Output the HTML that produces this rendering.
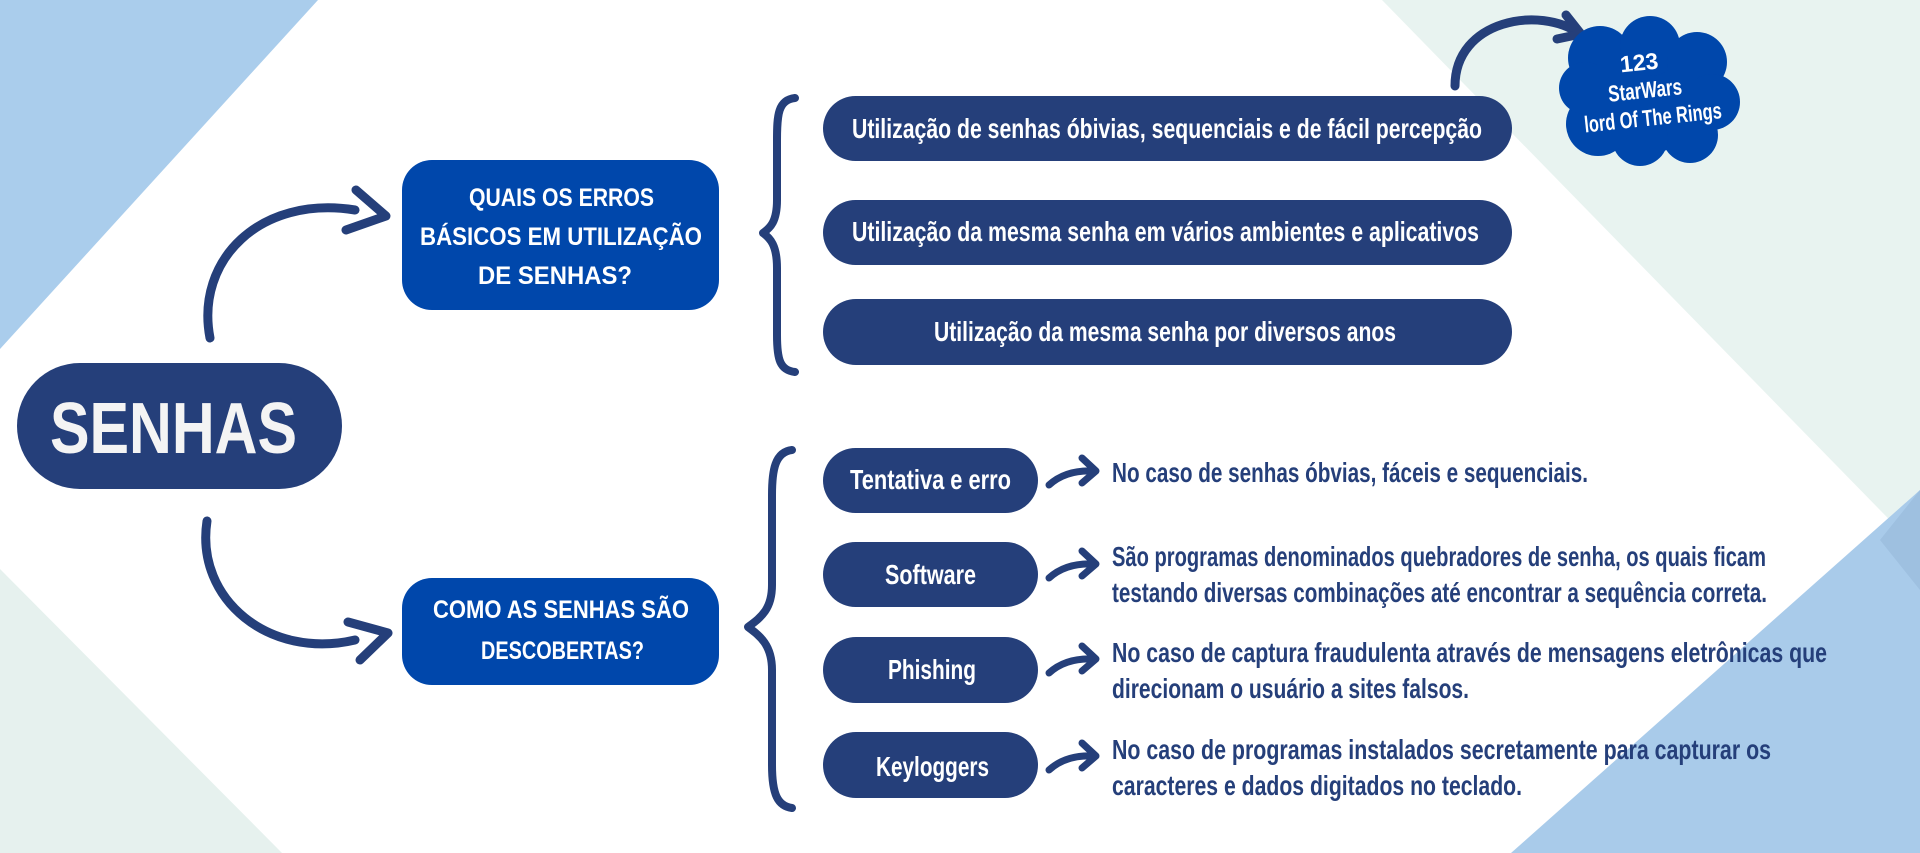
<!DOCTYPE html>
<html><head><meta charset="utf-8"><style>
html,body{margin:0;padding:0;background:#fff;}
svg{display:block;}
text{font-family:"Liberation Sans Narrow","Liberation Sans",sans-serif;font-weight:bold;}
</style></head><body>
<svg width="1920" height="853" viewBox="0 0 1920 853" xmlns="http://www.w3.org/2000/svg">
<rect width="1920" height="853" fill="#ffffff"/>
<polygon points="0,0 318,0 0,349" fill="#aacdec"/>
<polygon points="0,569 282,853 0,853" fill="#e6f1ee"/>
<polygon points="1382,0 1920,0 1920,551" fill="#e8f3f0"/>
<polygon points="1920,490 1920,853 1511,853" fill="#a9cbea"/>
<polygon points="1880,540 1920,490 1920,590" fill="#9ec0e0"/>

<g fill="none" stroke="#253f7a" stroke-width="9" stroke-linecap="round" stroke-linejoin="round">
<path d="M210,338 C195,260 260,195 355,210"/>
<path d="M356,190 L386,216 L346,230"/>
<path d="M207,521 C195,600 270,660 355,640"/>
<path d="M348,622 L388,633 L360,660"/>
<path d="M795,98 C778,100 777,115 777,140 L777,200 C777,222 770,228 763,233 C770,238 777,245 777,268 L777,335 C777,360 780,370 795,372" stroke-width="8"/>
<path d="M792,450 C775,452 772,470 772,495 L772,585 C772,610 760,618 748,627 C760,636 772,645 772,670 L772,765 C772,795 778,806 792,808" stroke-width="8"/>
<path d="M1455,86 C1455,20 1540,5 1580,34"/>
<path d="M1566,15 L1581,34 L1557,39"/>
</g>
<g fill="none" stroke="#253f7a" stroke-width="7" stroke-linecap="round" stroke-linejoin="round">
<path d="M1049,485 C1060,475 1075,470 1094,471"/><path d="M1082,458 L1096,471 L1082,483"/>
<path d="M1049,578 C1060,568 1075,563 1094,564"/><path d="M1082,551 L1096,564 L1082,576"/>
<path d="M1049,673 C1060,663 1075,658 1094,659"/><path d="M1082,646 L1096,659 L1082,671"/>
<path d="M1049,770 C1060,760 1075,755 1094,756"/><path d="M1082,743 L1096,756 L1082,768"/>
</g>

<rect x="17" y="363" width="325" height="126" rx="63" fill="#253f7a"/>
<text x="50" y="453" font-size="72" fill="#f4f4f4" font-family="Liberation Sans" textLength="247" lengthAdjust="spacingAndGlyphs" style="font-weight:900">SENHAS</text>

<rect x="402" y="160" width="317" height="150" rx="30" fill="#0047ab"/>
<g fill="#fff" font-size="25">
<text x="469" y="206" textLength="185" lengthAdjust="spacingAndGlyphs">QUAIS OS ERROS</text>
<text x="420" y="245" textLength="282" lengthAdjust="spacingAndGlyphs">BÁSICOS EM UTILIZAÇÃO</text>
<text x="478" y="284" textLength="154" lengthAdjust="spacingAndGlyphs">DE SENHAS?</text>
</g>
<rect x="402" y="578" width="317" height="107" rx="30" fill="#0047ab"/>
<g fill="#fff" font-size="25">
<text x="433" y="618" textLength="256" lengthAdjust="spacingAndGlyphs">COMO AS SENHAS SÃO</text>
<text x="481" y="659" textLength="163" lengthAdjust="spacingAndGlyphs">DESCOBERTAS?</text>
</g>

<g fill="#253f7a">
<rect x="823" y="96" width="689" height="65" rx="32.5"/>
<rect x="823" y="200" width="689" height="65" rx="32.5"/>
<rect x="823" y="299" width="689" height="66" rx="33"/>
<rect x="823" y="448" width="215" height="65" rx="32.5"/>
<rect x="823" y="542" width="215" height="65" rx="32.5"/>
<rect x="823" y="637" width="215" height="66" rx="33"/>
<rect x="823" y="732" width="215" height="66" rx="33"/>
</g>
<g fill="#fff" font-size="28">
<text x="852" y="138" textLength="630" lengthAdjust="spacingAndGlyphs">Utilização de senhas óbivias, sequenciais e de fácil percepção</text>
<text x="852" y="241" textLength="627" lengthAdjust="spacingAndGlyphs">Utilização da mesma senha em vários ambientes e aplicativos</text>
<text x="934" y="341" textLength="462" lengthAdjust="spacingAndGlyphs">Utilização da mesma senha por diversos anos</text>
<text x="850" y="489" textLength="161" lengthAdjust="spacingAndGlyphs">Tentativa e erro</text>
<text x="885" y="584" textLength="91" lengthAdjust="spacingAndGlyphs">Software</text>
<text x="888" y="679" textLength="88" lengthAdjust="spacingAndGlyphs">Phishing</text>
<text x="876" y="776" textLength="113" lengthAdjust="spacingAndGlyphs">Keyloggers</text>
</g>
<g fill="#253f7a" font-size="28">
<text x="1112" y="482" textLength="476" lengthAdjust="spacingAndGlyphs">No caso de senhas óbvias, fáceis e sequenciais.</text>
<text x="1112" y="566" textLength="654" lengthAdjust="spacingAndGlyphs">São programas denominados quebradores de senha, os quais ficam</text>
<text x="1112" y="602" textLength="655" lengthAdjust="spacingAndGlyphs">testando diversas  combinações até encontrar a sequência correta.</text>
<text x="1112" y="662" textLength="715" lengthAdjust="spacingAndGlyphs">No caso de captura fraudulenta através de mensagens eletrônicas que</text>
<text x="1112" y="698" textLength="357" lengthAdjust="spacingAndGlyphs">direcionam o usuário a sites falsos.</text>
<text x="1112" y="759" textLength="659" lengthAdjust="spacingAndGlyphs">No caso de programas instalados secretamente para capturar os</text>
<text x="1112" y="795" textLength="410" lengthAdjust="spacingAndGlyphs">caracteres e dados digitados no teclado.</text>
</g>

<g fill="#0047ab">
<circle cx="1645" cy="92" r="62"/>
<circle cx="1600" cy="58" r="32"/>
<circle cx="1650" cy="46" r="30"/>
<circle cx="1697" cy="62" r="30"/>
<circle cx="1712" cy="102" r="28"/>
<circle cx="1690" cy="135" r="28"/>
<circle cx="1640" cy="138" r="28"/>
<circle cx="1598" cy="124" r="32"/>
<circle cx="1585" cy="88" r="26"/>
</g>
<g fill="#fff" font-size="23" transform="rotate(-6 1645 90)">
<text x="1642" y="70" text-anchor="middle">123</text>
<text x="1645" y="98" text-anchor="middle" textLength="74" lengthAdjust="spacingAndGlyphs">StarWars</text>
<text x="1650" y="126" text-anchor="middle" textLength="138" lengthAdjust="spacingAndGlyphs">lord Of The Rings</text>
</g>
</svg>
</body></html>
